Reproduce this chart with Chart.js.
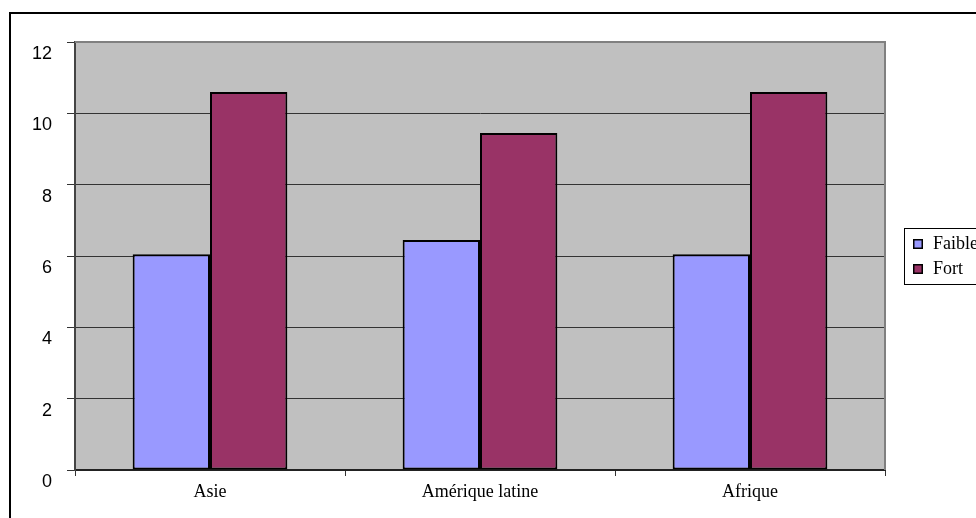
<!DOCTYPE html>
<html>
<head>
<meta charset="utf-8">
<script src="https://cdn.jsdelivr.net/npm/chart.js@4.4.0/dist/chart.umd.min.js"></script>
<style>
  html, body { margin: 0; padding: 0; background: #fff; overflow: hidden; }
  #wrap { position: relative; width: 976px; height: 518px; overflow: hidden; }
  #frame { position: absolute; left: 9px; top: 12px; width: 1100px; height: 600px;
           border-left: 2px solid #000; border-top: 2px solid #000; }
  canvas { position: absolute; left: 0; top: 0; }
</style>
</head>
<body>
<div id="wrap">
  <div id="frame"></div>
  <canvas id="c" width="976" height="518"></canvas>
</div>
<script>
// Categories, series and axis ticks
const regions = ['Asie', 'Amérique latine', 'Afrique'];
const seriesNames = ['Faible', 'Fort'];
const faible = [6.05, 6.45, 6.05];
const fort = [10.6, 9.45, 10.6];
const yTicks = [0, 2, 4, 6, 8, 10, 12];

const serif = '"Liberation Serif", "Times New Roman", serif';
const sans = '"Liberation Sans", Arial, sans-serif';

// Grey plot background
const plotBackground = {
  id: 'plotBackground',
  beforeDraw(chart) {
    const { ctx, chartArea: a } = chart;
    ctx.save();
    ctx.fillStyle = '#C0C0C0';
    ctx.fillRect(a.left, a.top, a.right - a.left, a.bottom - a.top);
    ctx.restore();
  }
};

// Grey border along the top and right of the plot
const plotBorder = {
  id: 'plotBorder',
  afterDraw(chart) {
    const { ctx, chartArea: a } = chart;
    ctx.save();
    ctx.strokeStyle = '#808080';
    ctx.lineWidth = 2;
    ctx.beginPath();
    ctx.moveTo(a.left, a.top);
    ctx.lineTo(a.right, a.top);
    ctx.lineTo(a.right, a.bottom);
    ctx.stroke();
    ctx.restore();
  }
};

// Framed legend to the right of the plot
const sideLegend = {
  id: 'sideLegend',
  afterDraw(chart) {
    const { ctx, chartArea: a } = chart;
    const x0 = Math.round(a.right + 19);
    const h = 56;
    const y0 = Math.round((a.top + a.bottom) / 2 - h / 2);
    ctx.save();
    ctx.strokeStyle = '#000';
    ctx.lineWidth = 1;
    ctx.strokeRect(x0 + 0.5, y0 + 0.5, 200, h);
    ctx.font = '18px ' + serif;
    ctx.textBaseline = 'middle';
    chart.data.datasets.forEach((ds, i) => {
      const cy = y0 + 16 + i * 25;
      const my = Math.round(cy - 5);
      ctx.fillStyle = ds.backgroundColor;
      ctx.fillRect(x0 + 9, my, 10, 10);
      ctx.lineWidth = 1.5;
      ctx.strokeRect(x0 + 9.75, my + 0.75, 8.5, 8.5);
      ctx.fillStyle = '#000';
      ctx.fillText(ds.label, x0 + 29, cy);
    });
    ctx.restore();
  }
};

new Chart(document.getElementById('c'), {
  type: 'bar',
  data: {
    labels: regions,
    datasets: [
      { label: seriesNames[0], data: faible, backgroundColor: '#9999FF',
        borderColor: '#000', borderWidth: 2, borderSkipped: false },
      { label: seriesNames[1], data: fort, backgroundColor: '#993366',
        borderColor: '#000', borderWidth: 2, borderSkipped: false }
    ]
  },
  options: {
    responsive: false,
    animation: false,
    devicePixelRatio: 1,
    layout: { padding: { top: 42, right: 91, left: 0, bottom: 0 } },
    datasets: { bar: { categoryPercentage: 0.573, barPercentage: 1 } },
    plugins: { legend: { display: false }, tooltip: { enabled: false } },
    scales: {
      x: {
        type: 'category',
        offset: true,
        grid: { offset: true, drawOnChartArea: false, drawTicks: true, tickLength: 6,
                color: '#333', tickColor: '#333' },
        border: { color: '#222', width: 2 },
        ticks: { color: '#000', font: { family: serif, size: 18 }, padding: 5,
                 maxRotation: 0, autoSkip: false },
        afterFit(s) { s.height = 48; }
      },
      y: {
        min: 0,
        max: 12,
        afterBuildTicks(s) { s.ticks = yTicks.map(v => ({ value: v })); },
        grid: { color: '#333', lineWidth: 1, tickLength: 8, tickColor: '#333' },
        border: { color: '#444', width: 2 },
        ticks: { color: '#000', font: { family: sans, size: 18 }, padding: 15,
                 labelOffset: 12 },
        afterFit(s) { s.width = 75; }
      }
    }
  },
  plugins: [plotBackground, plotBorder, sideLegend]
});
</script>
</body>
</html>
